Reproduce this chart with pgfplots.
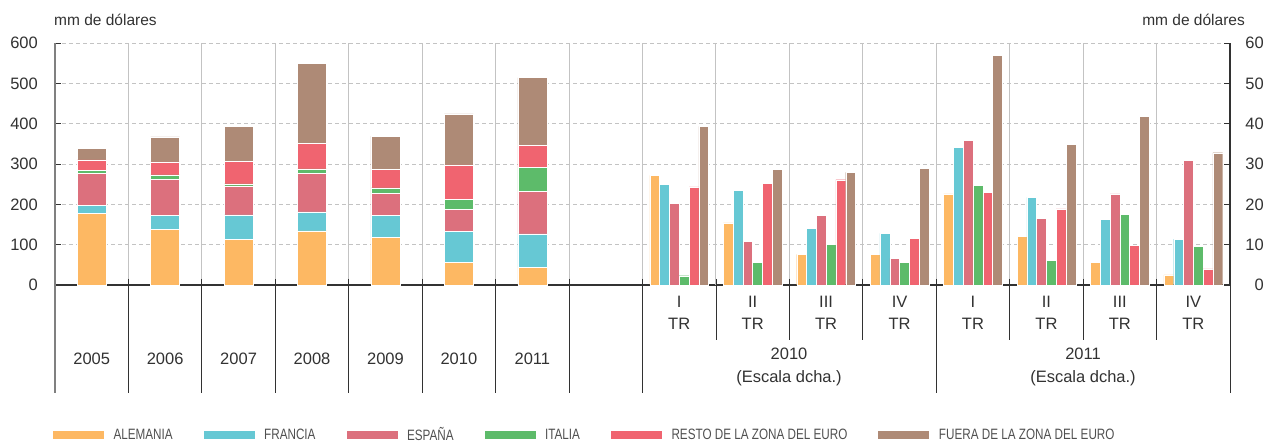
\documentclass[border=0pt]{standalone}
\usepackage{pgfplots}
\pgfplotsset{compat=1.18}
\usepackage{fontspec}
\setmainfont{Liberation Sans}
\newfontfamily\condfont[FakeStretch=0.78]{Liberation Sans}
\definecolor{cA}{RGB}{253,184,99}
\definecolor{cF}{RGB}{102,200,212}
\definecolor{cE}{RGB}{220,112,125}
\definecolor{cI}{RGB}{93,187,106}
\definecolor{cR}{RGB}{240,100,112}
\definecolor{cU}{RGB}{174,138,118}
\definecolor{txt}{RGB}{50,50,50}
\definecolor{legt}{RGB}{80,80,80}
\definecolor{gridc}{RGB}{195,195,195}
\pgfplotsset{
  lg/.style={legend image code/.code={\fill[##1] (0pt,-4.5pt) rectangle (52pt,4.5pt);}},
  base/.style={
    at={(55pt,158pt)}, anchor=south west, scale only axis,
    width=1175pt, height=242pt, xmin=-0.5, xmax=15.5, clip=false,
    /pgf/number format/assume math mode=true,
    ticklabel style={font=\fontsize{16.5}{19}\selectfont, text=txt, inner sep=0pt},
    tick align=inside, major tick length=6pt,
    ytick style={draw=txt, line width=0.9pt},
  }
}
\begin{document}
\begin{tikzpicture}[x=1pt,y=1pt]
\path[use as bounding box] (0,0) rectangle (1265,443);

\begin{axis}[base, ybar stacked, bar width=29pt,
  ymin=0, ymax=600, ytick={0,100,...,600},
  axis x line*=bottom, axis y line*=left, xtick=\empty,
  x axis line style={draw=txt, line width=1.2pt},
  y axis line style={draw=gray, line width=1.5pt},
  yticklabel style={anchor=east, xshift=-17pt},
  ymajorgrids, y grid style={gridc, line width=0.9pt, dash pattern=on 4pt off 3pt},
  extra x ticks={0.5,1.5,2.5,3.5,4.5,5.5,6.5,7.5,8.5,9.5,10.5,11.5,12.5,13.5,14.5},
  extra x tick labels={},
  extra x tick style={grid=major, major grid style={solid, gridc, line width=1pt}, major tick length=0pt},
  legend columns=6,
  legend cell align=left,
  legend style={draw=none, fill=none, inner sep=0pt, outer sep=0pt,
    at={(-0.00255,-0.62)}, anchor=west,
    font=\condfont\fontsize{15}{18}\selectfont, text=legt,
    nodes={inner sep=0pt},
    /tikz/every odd column/.append style={column sep=9pt},
    /tikz/every even column/.append style={column sep=30pt}},
]
\addplot[lg, fill=cA, draw=white, line width=0.5pt] coordinates {(0,177) (1,138) (2,114) (3,134) (4,118) (5,57) (6,43)};
\addplot[lg, fill=cF, draw=white, line width=0.5pt] coordinates {(0,21) (1,34) (2,60) (3,47) (4,54) (5,76) (6,84)};
\addplot[lg, fill=cE, draw=white, line width=0.5pt] coordinates {(0,78) (1,89) (2,72) (3,95) (4,55) (5,55) (6,105)};
\addplot[lg, fill=cI, draw=white, line width=0.5pt] coordinates {(0,9) (1,12) (2,5) (3,12) (4,14) (5,24) (6,59)};
\addplot[lg, fill=cR, draw=white, line width=0.5pt] coordinates {(0,25) (1,32) (2,56) (3,64) (4,45) (5,86) (6,55)};
\addplot[lg, fill=cU, draw=white, line width=0.5pt] coordinates {(0,29) (1,62) (2,86) (3,197) (4,83) (5,126) (6,168)};
\legend{ALEMANIA, FRANCIA, ESPAÑA, ITALIA, RESTO DE LA ZONA DEL EURO, FUERA DE LA ZONA DEL EURO}
\end{axis}

\begin{axis}[base, ybar=0pt, bar width=9.8pt,
  ymin=0, ymax=60, ytick={0,10,...,60},
  axis y line*=right, axis x line=none,
  y axis line style={draw=txt, line width=1.2pt},
  yticklabel style={anchor=east, xshift=34pt},
]
\addplot[fill=cA, draw=white, line width=0.4pt] coordinates {(8,27.2) (9,15.4) (10,7.6) (11,7.6) (12,22.6) (13,12.0) (14,5.6) (15,2.5)};
\addplot[fill=cF, draw=white, line width=0.4pt] coordinates {(8,25.0) (9,23.5) (10,14.1) (11,12.8) (12,34.2) (13,21.7) (14,16.2) (15,11.4)};
\addplot[fill=cE, draw=white, line width=0.4pt] coordinates {(8,20.2) (9,10.8) (10,17.3) (11,6.6) (12,35.9) (13,16.6) (14,22.6) (15,30.9)};
\addplot[fill=cI, draw=white, line width=0.4pt] coordinates {(8,2.3) (9,5.6) (10,10.0) (11,5.7) (12,24.7) (13,6.1) (14,17.5) (15,9.5)};
\addplot[fill=cR, draw=white, line width=0.4pt] coordinates {(8,24.3) (9,25.2) (10,26.1) (11,11.5) (12,22.9) (13,18.9) (14,9.8) (15,4.0)};
\addplot[fill=cU, draw=white, line width=0.4pt] coordinates {(8,39.3) (9,28.7) (10,27.9) (11,29.0) (12,57.0) (13,34.9) (14,41.9) (15,32.8)};
\end{axis}

% units label
\node[anchor=base west, inner sep=0pt, font=\fontsize{15.5}{18}\selectfont, text=txt] at (54,417) {mm de dólares};
\node[anchor=base east, inner sep=0pt, font=\fontsize{15.5}{18}\selectfont, text=txt] at (1245,417) {mm de dólares};

% separators under the axis
\draw[gray, line width=1.5pt] (55,158) -- (55,50);
\foreach \k in {1,2,3,4,5,6,7,8,12,16}{
  \draw[txt, line width=0.8pt] ({55+\k*73.4375},164) -- ({55+\k*73.4375},50);
}
\foreach \k in {9,10,11,13,14,15}{
  \draw[txt, line width=0.8pt] ({55+\k*73.4375},164) -- ({55+\k*73.4375},103);
}

% year labels
\foreach \y [count=\i from 0] in {2005,2006,2007,2008,2009,2010,2011}{
  \node[font=\fontsize{16.5}{19}\selectfont, text=txt] at ({55+(\i+0.5)*73.4375},84) {\y};
}
% quarter labels
\foreach \q [count=\i from 8] in {I,II,III,IV,I,II,III,IV}{
  \node[align=center, font=\fontsize{16.5}{22}\selectfont, text=txt] at ({55+(\i+0.5)*73.4375},130) {\q\\TR};
}
\node[align=center, font=\fontsize{16.5}{23}\selectfont, text=txt] at (789,76) {2010\\(Escala dcha.)};
\node[align=center, font=\fontsize{16.5}{23}\selectfont, text=txt] at (1083,76) {2011\\(Escala dcha.)};
\end{tikzpicture}
\end{document}
